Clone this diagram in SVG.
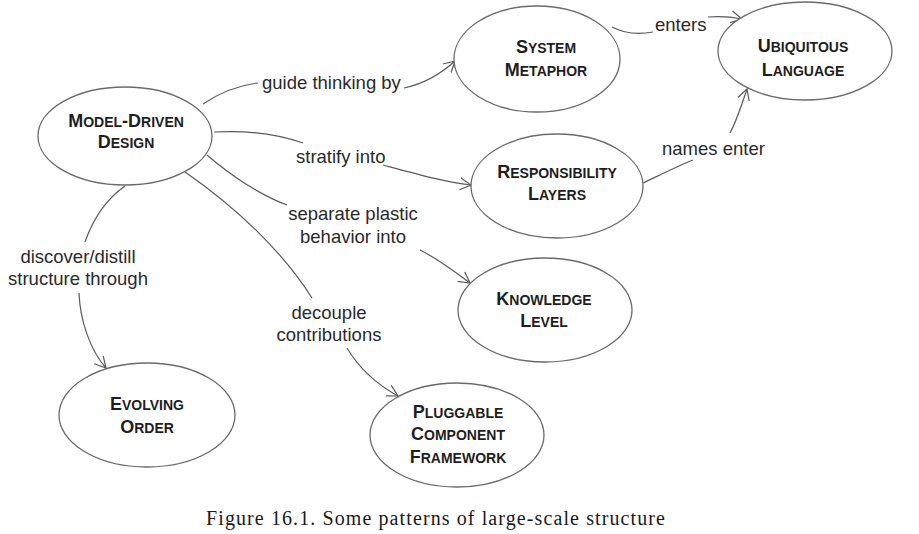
<svg xmlns="http://www.w3.org/2000/svg" width="919" height="534" viewBox="0 0 919 534">
<style>
.n ellipse{fill:#fff;stroke:#6a6a6a;stroke-width:1.3}
.n text{font-family:"Liberation Sans",Arial,sans-serif;font-weight:bold;fill:#1e1e1e;text-anchor:middle}
.c{font-size:18px}
.s{font-size:14px}
.e path{fill:none;stroke:#5a5a5a;stroke-width:1.2}
.e path.a{marker-end:url(#arr)}
.l{font-family:"Liberation Sans",Arial,sans-serif;font-size:18.5px;fill:#2a2a2a}
.m{text-anchor:middle}
.cap{font-family:"Liberation Serif","Times New Roman",serif;font-size:20px;fill:#1a1a1a}
</style>
<defs>
<marker id="arr" markerUnits="userSpaceOnUse" markerWidth="14" markerHeight="14" refX="11" refY="6" orient="auto" viewBox="0 0 14 12">
<path d="M0,0 L11,6 L0,12" fill="none" stroke="#5a5a5a" stroke-width="1.2"/>
</marker>
</defs>
<rect width="919" height="534" fill="#fff"/>

<g class="e" id="connectors">
<path d="M203,104 Q230,86 258,83"/>
<path class="a" d="M404,88 Q432,82 455,61"/>
<path d="M214,132 C250,130 280,135 303,143"/>
<path class="a" d="M383,165 C420,175 445,182 471,185"/>
<path d="M207,155 C230,175 260,195 287,205"/>
<path class="a" d="M420,250 C440,260 455,272 470,283"/>
<path d="M125,186 C105,200 92,222 85,242"/>
<path class="a" d="M79,293 C80,320 90,350 106,368"/>
<path d="M185,172 C240,210 285,255 312,298"/>
<path class="a" d="M347,348 C360,370 378,385 398,396"/>
<path d="M612,27 C627,35 642,34 653,32"/>
<path class="a" d="M708,17 C720,16 732,17 742,19"/>
<path d="M643,183 C660,175 680,165 693,160"/>
<path class="a" d="M730,133 C737,120 742,104 747,89"/>
<text class="l" x="262" y="89">guide thinking by</text>
<text class="l" x="296" y="163">stratify into</text>
<text class="l m" x="353" y="220">separate plastic</text>
<text class="l m" x="353" y="243">behavior into</text>
<text class="l m" x="78" y="263">discover/distill</text>
<text class="l m" x="78" y="285">structure through</text>
<text class="l m" x="329" y="319">decouple</text>
<text class="l m" x="329" y="341">contributions</text>
<text class="l" x="655" y="31">enters</text>
<text class="l" x="662" y="155">names enter</text>
</g>

<g class="n" id="model-driven-design">
<ellipse cx="125" cy="136" rx="87" ry="49"/>
<text x="126" y="127"><tspan class="c">M</tspan><tspan class="s">ODEL</tspan><tspan class="c">-D</tspan><tspan class="s">RIVEN</tspan></text>
<text x="126" y="148"><tspan class="c">D</tspan><tspan class="s">ESIGN</tspan></text>
</g>

<g class="n" id="system-metaphor">
<ellipse cx="537" cy="59" rx="83" ry="53"/>
<text x="546" y="53"><tspan class="c">S</tspan><tspan class="s">YSTEM</tspan></text>
<text x="546" y="76"><tspan class="c">M</tspan><tspan class="s">ETAPHOR</tspan></text>
</g>

<g class="n" id="ubiquitous-language">
<ellipse cx="805" cy="51" rx="87" ry="49"/>
<text x="803" y="52"><tspan class="c">U</tspan><tspan class="s">BIQUITOUS</tspan></text>
<text x="803" y="76"><tspan class="c">L</tspan><tspan class="s">ANGUAGE</tspan></text>
</g>

<g class="n" id="responsibility-layers">
<ellipse cx="557" cy="186" rx="86" ry="52"/>
<text x="557" y="178"><tspan class="c">R</tspan><tspan class="s">ESPONSIBILITY</tspan></text>
<text x="557" y="200"><tspan class="c">L</tspan><tspan class="s">AYERS</tspan></text>
</g>

<g class="n" id="knowledge-level">
<ellipse cx="545" cy="310" rx="87" ry="52"/>
<text x="544" y="305"><tspan class="c">K</tspan><tspan class="s">NOWLEDGE</tspan></text>
<text x="544" y="327"><tspan class="c">L</tspan><tspan class="s">EVEL</tspan></text>
</g>

<g class="n" id="pluggable-component-framework">
<ellipse cx="457" cy="435" rx="87" ry="52"/>
<text x="458" y="418"><tspan class="c">P</tspan><tspan class="s">LUGGABLE</tspan></text>
<text x="458" y="440"><tspan class="c">C</tspan><tspan class="s">OMPONENT</tspan></text>
<text x="458" y="463"><tspan class="c">F</tspan><tspan class="s">RAMEWORK</tspan></text>
</g>

<g class="n" id="evolving-order">
<ellipse cx="147" cy="415" rx="88" ry="52"/>
<text x="147" y="410"><tspan class="c">E</tspan><tspan class="s">VOLVING</tspan></text>
<text x="147" y="433"><tspan class="c">O</tspan><tspan class="s">RDER</tspan></text>
</g>

<text class="cap" x="206" y="525" textLength="459" lengthAdjust="spacing">Figure 16.1. Some patterns of large-scale structure</text>
</svg>
